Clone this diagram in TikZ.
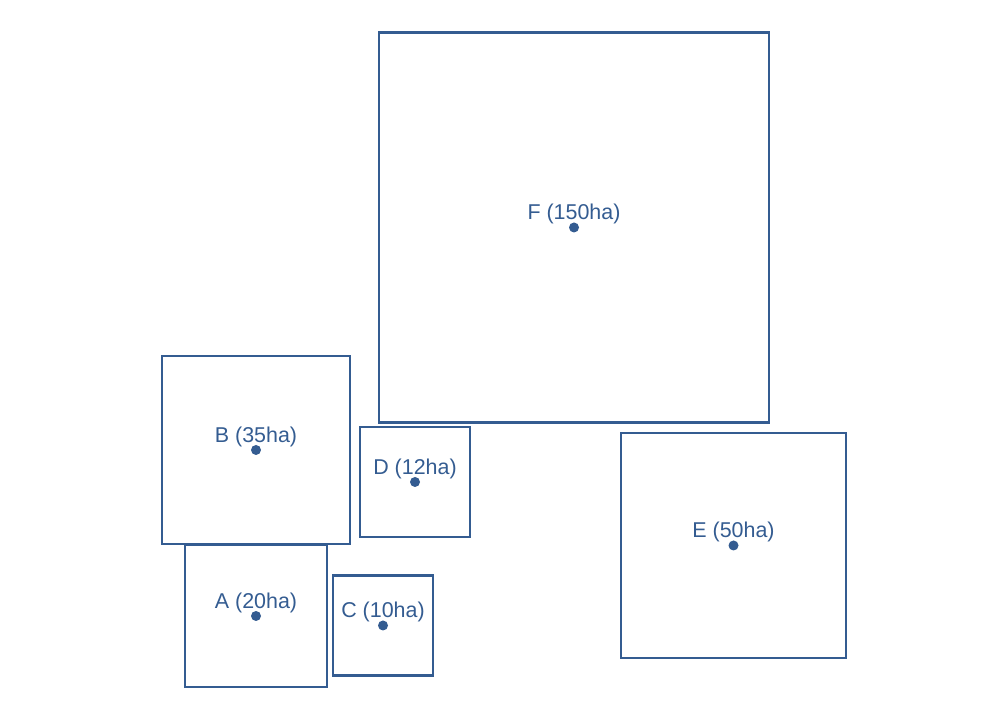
\documentclass[tikz,border=0pt]{standalone}
\usepackage{fontspec}
\setmainfont{Liberation Sans}
\usepackage{tikz}
\usetikzlibrary{positioning}
\definecolor{plotblue}{RGB}{52,92,145}

\tikzset{
  plot/.style={draw=plotblue,line width=0.6pt,inner sep=0pt,outer sep=0pt,minimum size=#1},
  plotlabel/.style={anchor=base,text=plotblue,inner sep=0pt,font=\fontsize{6.1}{7}\selectfont,yshift=0.075cm},
}

\begin{document}
\begin{tikzpicture}
\useasboundingbox (0,0) rectangle (10.08,7.2);
% plots, side length from area
\node[plot=3.90cm] (plotF) at (5.74,4.925) {};
\node[plot=1.88cm] (plotB) at (2.56,2.70) {};
\node[plot=1.10cm] (plotD) at (4.15,2.38) {};
\node[plot=2.25cm] (plotE) at (7.335,1.745) {};
\node[plot=1.42cm] (plotA) at (2.56,1.04) {};
\node[plot=1.00cm] (plotC) at (3.83,0.945) {};
% centres
\fill[plotblue] (plotF.center) circle (0.05);
\fill[plotblue] (plotB.center) circle (0.05);
\fill[plotblue] (plotD.center) circle (0.05);
\fill[plotblue] (plotE.center) circle (0.05);
\fill[plotblue] (plotA.center) circle (0.05);
\fill[plotblue] (plotC.center) circle (0.05);
% names
\node[plotlabel] (labF) at (plotF.center) {F (150ha)};
\node[plotlabel] (labB) at (plotB.center) {B (35ha)};
\node[plotlabel] (labD) at (plotD.center) {D (12ha)};
\node[plotlabel] (labE) at (plotE.center) {E (50ha)};
\node[plotlabel] (labA) at (plotA.center) {A (20ha)};
\node[plotlabel] (labC) at (plotC.center) {C (10ha)};
\end{tikzpicture}
\end{document}
